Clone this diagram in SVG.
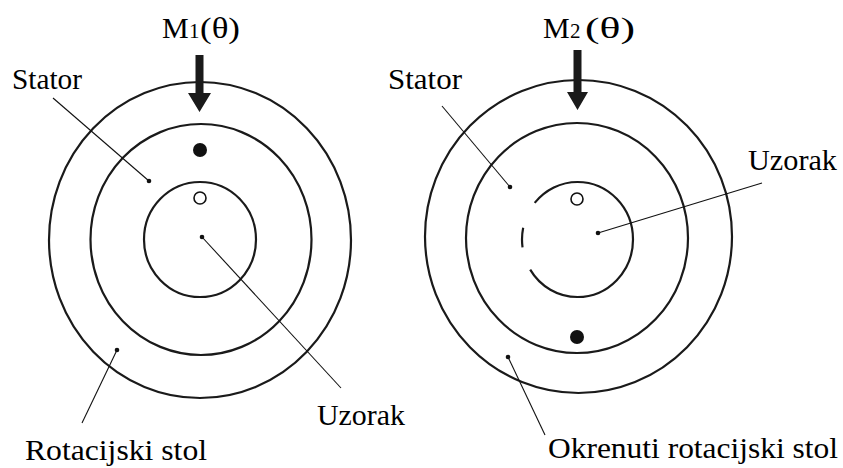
<svg xmlns="http://www.w3.org/2000/svg" width="843" height="468" viewBox="0 0 843 468">
<style>
  .ring { fill: none; stroke: #1a1a1a; stroke-width: 2.2; }
  .lead { fill: none; stroke: #111; stroke-width: 1.1; }
  .pt { fill: #111; }
  .lbl { font-size: 30px; fill: #000; }
  .sub { font-size: 21px; fill: #000; }
  .arrow { fill: #1a1a1a; }
</style>
<rect width="843" height="468" fill="#fff"/>

<g id="left-table">
  <ellipse class="ring" cx="200" cy="240" rx="151" ry="158"/>
</g>
<g id="left-stator">
  <ellipse class="ring" cx="201" cy="239.5" rx="110.5" ry="115.5"/>
  <circle cx="200" cy="150" r="7" fill="#111"/>
</g>
<g id="left-sample">
  <ellipse class="ring" cx="200" cy="239.5" rx="56" ry="57.5"/>
  <circle cx="200" cy="198" r="6" fill="#fff" stroke="#111" stroke-width="1.6"/>
</g>

<g id="right-table">
  <ellipse class="ring" cx="578.5" cy="236.5" rx="153.5" ry="156.5"/>
</g>
<g id="right-stator">
  <ellipse class="ring" cx="577" cy="238" rx="111" ry="115"/>
  <circle cx="577" cy="337" r="7" fill="#111"/>
</g>
<g id="right-sample">
  <ellipse class="ring" cx="577.5" cy="239.5" rx="55.5" ry="57.5" pathLength="360" stroke-dasharray="148 24 20 28 140"/>
  <circle cx="577" cy="199" r="6" fill="#fff" stroke="#111" stroke-width="1.6"/>
</g>

<g id="connectors">
  <path class="arrow" d="M195.5,55 H203.5 V93 H211 L199.5,112 L188,93 H195.5 Z"/>
  <path class="arrow" d="M573.5,50 H581.5 V92 H588 L577.5,110 L567,92 H573.5 Z"/>
  <line class="lead" x1="53" y1="98" x2="149" y2="181"/>
  <circle class="pt" cx="149" cy="181" r="2.3"/>
  <line class="lead" x1="82" y1="423" x2="117" y2="350"/>
  <circle class="pt" cx="117" cy="350" r="2.3"/>
  <line class="lead" x1="202" y1="237" x2="341" y2="388"/>
  <circle class="pt" cx="202" cy="237" r="2.3"/>
  <line class="lead" x1="442" y1="106" x2="510" y2="187"/>
  <circle class="pt" cx="510" cy="187" r="2.3"/>
  <line class="lead" x1="598" y1="233" x2="762" y2="183"/>
  <circle class="pt" cx="598" cy="233" r="2.3"/>
  <line class="lead" x1="508" y1="357" x2="545" y2="435"/>
  <circle class="pt" cx="508" cy="357" r="2.3"/>
</g>

<g id="labels" font-family="Liberation Serif, DejaVu Serif, serif">
  <text class="lbl" x="162" y="38">M</text>
  <text class="sub" x="189" y="38">1</text>
  <text class="lbl" x="200" y="38" textLength="40" lengthAdjust="spacingAndGlyphs">(θ)</text>
  <text class="lbl" x="543" y="38">M</text>
  <text class="sub" x="570" y="38">2</text>
  <text class="lbl" x="585" y="38" textLength="50" lengthAdjust="spacingAndGlyphs">(θ)</text>
  <text class="lbl" x="12" y="89" textLength="70" lengthAdjust="spacingAndGlyphs">Stator</text>
  <text class="lbl" x="388" y="89" textLength="74" lengthAdjust="spacingAndGlyphs">Stator</text>
  <text class="lbl" x="317" y="425" textLength="88" lengthAdjust="spacingAndGlyphs">Uzorak</text>
  <text class="lbl" x="748" y="170" textLength="89" lengthAdjust="spacingAndGlyphs">Uzorak</text>
  <text class="lbl" x="25" y="460" textLength="182" lengthAdjust="spacingAndGlyphs">Rotacijski stol</text>
  <text class="lbl" x="548" y="458" textLength="290" lengthAdjust="spacingAndGlyphs">Okrenuti rotacijski stol</text>
</g>
</svg>
